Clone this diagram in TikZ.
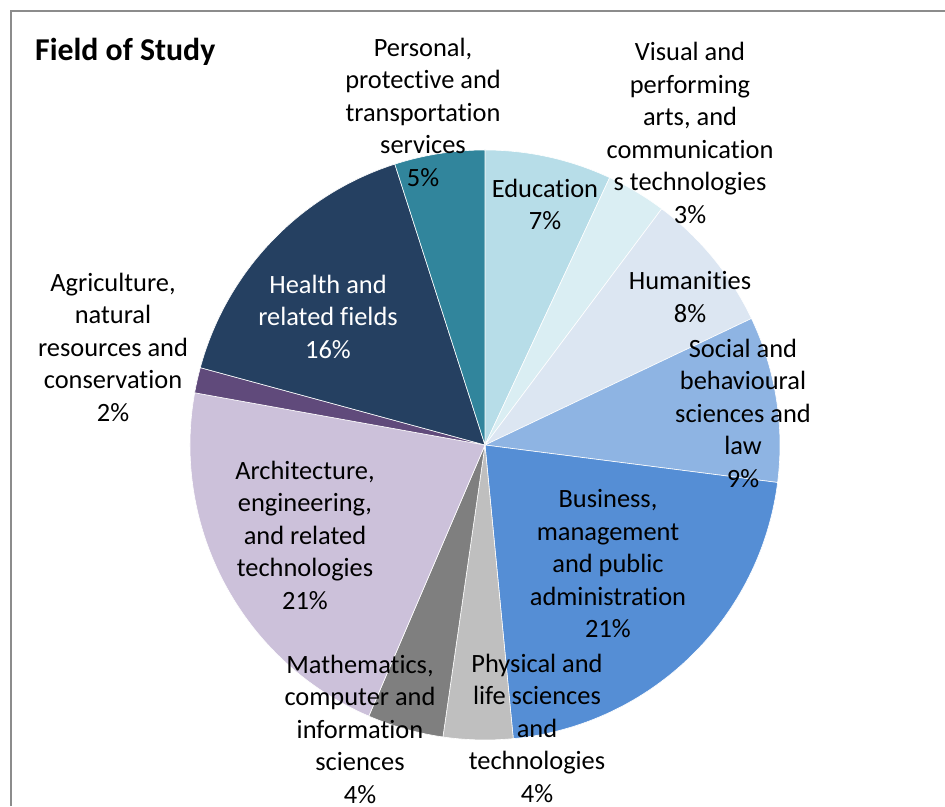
\documentclass[tikz,border=0pt]{standalone}
\usepackage{fontspec}
\setmainfont[Ligatures=NoCommon]{Carlito}

\definecolor{eduC}{HTML}{B7DDE8}
\definecolor{visC}{HTML}{DAEEF3}
\definecolor{humC}{HTML}{DCE6F2}
\definecolor{socC}{HTML}{8EB4E3}
\definecolor{busC}{HTML}{558ED5}
\definecolor{phyC}{HTML}{BFBFBF}
\definecolor{matC}{HTML}{7F7F7F}
\definecolor{arcC}{HTML}{CCC1DA}
\definecolor{agrC}{HTML}{604A7B}
\definecolor{heaC}{HTML}{254061}
\definecolor{perC}{HTML}{31859C}

\tikzset{
  lbl/.style={align=center, inner sep=0pt, font=\fontsize{26.4}{32.5}\selectfont},
  slice/.style={draw=white, line width=0.6pt}
}

\begin{document}
\begin{tikzpicture}[x=1pt,y=1pt]
\useasboundingbox (0,0) rectangle (945,806);

%frame of the chart area
\draw[color=gray!90, line width=2pt] (11,0) -- (11,795) -- (945,795);

%the pie, clockwise from the top
\begin{scope}[shift={(485,361)}]
\foreach \a/\b/\c in {90/65/eduC, 65/53.2/visC, 53.2/25.4/humC, 25.4/-7.3/socC,
  -7.3/-84.5/busC, -84.5/-98.2/phyC, -98.2/-113.2/matC, -113.2/-190.2/arcC,
  -190.2/-195.2/agrC, -195.2/-252.2/heaC, -252.2/-270/perC}
  \filldraw[slice, fill=\c] (0,0) -- (\a:295) arc[start angle=\a, end angle=\b, radius=295] -- cycle;
\end{scope}

%title
\node[anchor=west, inner sep=0pt, font=\fontsize{31.8}{38}\selectfont\bfseries] (title) at (35,754) {Field of Study};

%labels
\node[lbl] (edu) at (545,601.5) {Education\\7\%};
\node[lbl] (vis) at (690,673) {Visual and\\performing\\arts, and\\communication\\s technologies\\3\%};
\node[lbl] (hum) at (690,509) {Humanities\\8\%};
\node[lbl] (soc) at (743,393) {Social and\\behavioural\\sciences and\\law\\9\%};
\node[lbl] (bus) at (608,242) {Business,\\management\\and public\\administration\\21\%};
\node[lbl] (phy) at (537,78) {Physical and\\life sciences\\and\\technologies\\4\%};
\node[lbl] (mat) at (360,77) {Mathematics,\\computer and\\information\\sciences\\4\%};
\node[lbl] (arc) at (305,271) {Architecture,\\engineering,\\and related\\technologies\\21\%};
\node[lbl] (agr) at (113,459) {Agriculture,\\natural\\resources and\\conservation\\2\%};
\node[lbl, text=white] (hea) at (328,489.5) {Health and\\related fields\\16\%};
\node[lbl] (per) at (423,694) {Personal,\\protective and\\transportation\\services\\5\%};

\end{tikzpicture}
\end{document}
